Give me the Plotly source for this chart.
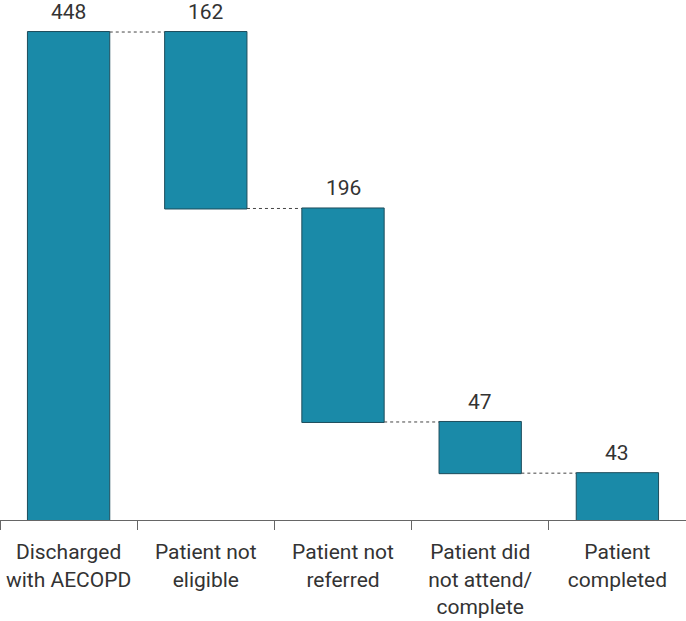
import plotly.graph_objects as go
import numpy as np

categories = ["Discharged<br>with AECOPD", "Patient not<br>eligible", "Patient not<br>referred",
              "Patient did<br>not attend/<br>complete", "Patient<br>completed"]
measures = ["absolute", "relative", "relative", "relative", "total"]
values = [448, -162, -196, -47, 43]
labels = ["448", "162", "196", "47", "43"]

# tops of bars for labels
cum = np.cumsum(values[:4])
tops = [values[0], values[0]] + list(cum[1:3]) + [values[4]]

FONT = "Roboto"
fig = go.Figure()
mk = dict(marker=dict(color="#1a8aa8", line=dict(color="#1d4d5c", width=1)))
fig.add_trace(go.Waterfall(
    x=categories, y=values, measure=measures,
    width=0.6,
    increasing=mk, decreasing=mk, totals=mk,
    connector=dict(line=dict(color="#444444", width=1, dash="dot")),
    hoverinfo="skip", showlegend=False,
))
for c, t, l in zip(categories, tops, labels):
    fig.add_annotation(x=c, y=t, text=l, showarrow=False, yanchor="bottom", yshift=6,
                       font=dict(family=FONT, size=21, color="#333333"))
fig.update_layout(
    width=686, height=621, margin=dict(l=0, r=0, t=0, b=101),
    plot_bgcolor="white", paper_bgcolor="white",
    font=dict(family=FONT, size=21, color="#333333"),
)
fig.update_xaxes(showline=True, linecolor="#666666", linewidth=1, ticks="outside",
                 tickson="boundaries", ticklen=9, tickcolor="#666666", showgrid=False,
                 automargin=False, ticklabelstandoff=13,
                 range=[-0.5, 4.5], tickfont=dict(family=FONT, size=21, color="#333333"))
fig.update_yaxes(visible=False, range=[0, 477.4], automargin=False)
fig.write_html("out.html", config={"displayModeBar": False},
               post_script="document.body.style.margin='0';document.body.style.overflow='hidden';")
